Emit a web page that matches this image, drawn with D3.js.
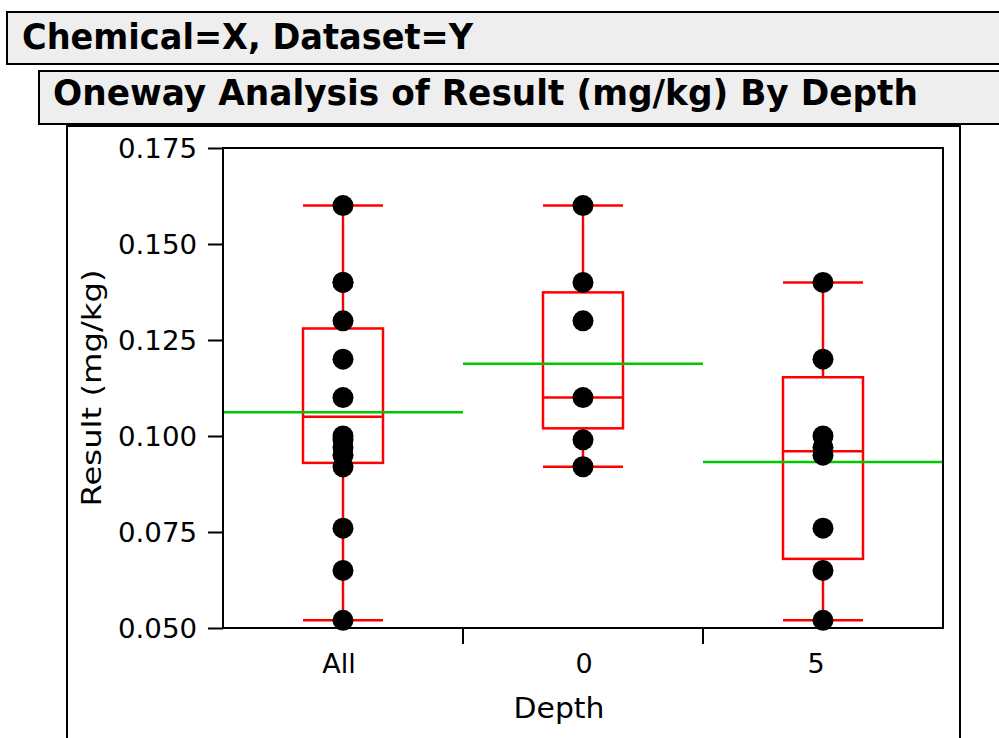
<!DOCTYPE html>
<html>
<head>
<meta charset="utf-8">
<script src="https://cdn.jsdelivr.net/npm/d3@7"></script>
<style>
  html, body { margin: 0; padding: 0; background: #fff; }
  svg { display: block; }
  text { font-family: "DejaVu Sans", "Noto Sans", sans-serif; fill: #000; }
</style>
</head>
<body>
<svg id="chart" width="999" height="738"></svg>
<script>
// Result (mg/kg) by depth group
const categories = ["All", "0", "5"];
const valuesAll = [0.160, 0.140, 0.140, 0.130, 0.120, 0.110, 0.100, 0.099, 0.097, 0.095, 0.092, 0.076, 0.065, 0.052];
const valuesDepth0 = [0.160, 0.140, 0.130, 0.110, 0.099, 0.092];
const valuesDepth5 = [0.140, 0.120, 0.100, 0.097, 0.095, 0.076, 0.065, 0.052];

// Box-plot summaries per group: [min, q1, median, q3, max]
const boxAll = [0.052, 0.093, 0.105, 0.128, 0.160];
const boxDepth0 = [0.092, 0.102, 0.110, 0.1374, 0.160];
const boxDepth5 = [0.052, 0.068, 0.096, 0.1153, 0.140];
// Group means
const means = [0.1062, 0.1188, 0.0932];

const yTicks = [0.050, 0.075, 0.100, 0.125, 0.150, 0.175];

const groups = [
  { name: categories[0], values: valuesAll, box: boxAll, mean: means[0] },
  { name: categories[1], values: valuesDepth0, box: boxDepth0, mean: means[1] },
  { name: categories[2], values: valuesDepth5, box: boxDepth5, mean: means[2] }
];

const svg = d3.select("#chart");
const RED = "#ff0000", GREEN = "#00c800";

// Report headers
svg.append("rect").attr("x", 7).attr("y", 12).attr("width", 1010).attr("height", 52)
  .attr("fill", "#eeeeee").attr("stroke", "#000").attr("stroke-width", 2);
svg.append("text").attr("x", 22).attr("y", 49)
  .attr("font-size", 36).attr("font-weight", "bold")
  .attr("textLength", 451).attr("lengthAdjust", "spacingAndGlyphs")
  .text("Chemical=X, Dataset=Y");

svg.append("rect").attr("x", 39).attr("y", 71).attr("width", 1010).attr("height", 53)
  .attr("fill", "#eeeeee").attr("stroke", "#000").attr("stroke-width", 2);
svg.append("text").attr("x", 53).attr("y", 105)
  .attr("font-size", 36).attr("font-weight", "bold")
  .attr("textLength", 865).attr("lengthAdjust", "spacingAndGlyphs")
  .text("Oneway Analysis of Result (mg/kg) By Depth");

// Outline panel
svg.append("rect").attr("x", 67).attr("y", 126).attr("width", 893).attr("height", 700)
  .attr("fill", "#fff").attr("stroke", "#000").attr("stroke-width", 2);

// Plot region
const plot = { left: 223, right: 943, top: 148, bottom: 628 };
const x = d3.scaleBand().domain(categories).range([plot.left, plot.right]).padding(0);
const y = d3.scaleLinear().domain([0.050, 0.175]).range([plot.bottom, plot.top]);

// Y axis
const yAxis = d3.axisLeft(y).tickValues(yTicks).tickFormat(d3.format(".3f"))
  .tickSizeInner(15).tickSizeOuter(0).tickPadding(11);
const gy = svg.append("g").attr("transform", `translate(${plot.left},0)`).call(yAxis);
gy.select(".domain").remove();
gy.selectAll(".tick line").attr("stroke", "#000").attr("stroke-width", 2);
gy.selectAll(".tick text").attr("font-size", 27).attr("font-family", "DejaVu Sans")
  .attr("fill", "#000").attr("dy", "0.36em").attr("textLength", 79).attr("lengthAdjust", "spacingAndGlyphs");

// X axis: labels at group centres, tick marks at group boundaries
const xAxis = d3.axisBottom(x).tickSize(0).tickPadding(0);
const gx = svg.append("g").attr("transform", `translate(0,${plot.bottom})`).call(xAxis);
gx.select(".domain").remove();
gx.selectAll(".tick text").attr("font-size", 27).attr("font-family", "DejaVu Sans")
  .attr("fill", "#000").attr("y", 45).attr("dy", 0)
  .attr("dx", (d, i) => [-4, 1, -7][i]);
svg.append("g").selectAll("line")
  .data(categories.slice(1))
  .join("line")
  .attr("x1", d => x(d)).attr("x2", d => x(d))
  .attr("y1", plot.bottom).attr("y2", plot.bottom + 16)
  .attr("stroke", "#000").attr("stroke-width", 2);

// Axis titles
svg.append("text")
  .attr("transform", `translate(101,${(plot.top + plot.bottom) / 2}) rotate(-90)`)
  .attr("text-anchor", "middle").attr("font-size", 27)
  .attr("textLength", 237).attr("lengthAdjust", "spacingAndGlyphs")
  .text("Result (mg/kg)");
svg.append("text").attr("x", 559).attr("y", 718)
  .attr("text-anchor", "middle").attr("font-size", 28)
  .attr("textLength", 91).attr("lengthAdjust", "spacingAndGlyphs")
  .text("Depth");

// Marks per group
const bw = x.bandwidth();
const boxW = bw / 3;
const g = svg.append("g");

groups.forEach(grp => {
  const cx = x(grp.name) + bw / 2;
  const [mn, q1, md, q3, mx] = grp.box;
  const gg = g.append("g");
  // whiskers
  gg.append("line").attr("x1", cx).attr("x2", cx).attr("y1", y(mx)).attr("y2", y(q3))
    .attr("stroke", RED).attr("stroke-width", 2.5);
  gg.append("line").attr("x1", cx).attr("x2", cx).attr("y1", y(q1)).attr("y2", y(mn))
    .attr("stroke", RED).attr("stroke-width", 2.5);
  [mn, mx].forEach(v => {
    gg.append("line").attr("x1", cx - boxW / 2).attr("x2", cx + boxW / 2)
      .attr("y1", y(v)).attr("y2", y(v)).attr("stroke", RED).attr("stroke-width", 2.5);
  });
  // box and median
  gg.append("rect").attr("x", cx - boxW / 2).attr("y", y(q3))
    .attr("width", boxW).attr("height", y(q1) - y(q3))
    .attr("fill", "none").attr("stroke", RED).attr("stroke-width", 2.5);
  gg.append("line").attr("x1", cx - boxW / 2).attr("x2", cx + boxW / 2)
    .attr("y1", y(md)).attr("y2", y(md)).attr("stroke", RED).attr("stroke-width", 2.5);
  // mean line across the group
  gg.append("line").attr("x1", x(grp.name)).attr("x2", x(grp.name) + bw)
    .attr("y1", y(grp.mean)).attr("y2", y(grp.mean))
    .attr("stroke", GREEN).attr("stroke-width", 2.5);
  // points
  gg.selectAll("circle").data(grp.values).join("circle")
    .attr("cx", cx).attr("cy", d => y(d)).attr("r", 10.5).attr("fill", "#000");
});

// Plot frame
svg.append("rect").attr("x", plot.left).attr("y", plot.top)
  .attr("width", plot.right - plot.left).attr("height", plot.bottom - plot.top)
  .attr("fill", "none").attr("stroke", "#000").attr("stroke-width", 2);
</script>
</body>
</html>
